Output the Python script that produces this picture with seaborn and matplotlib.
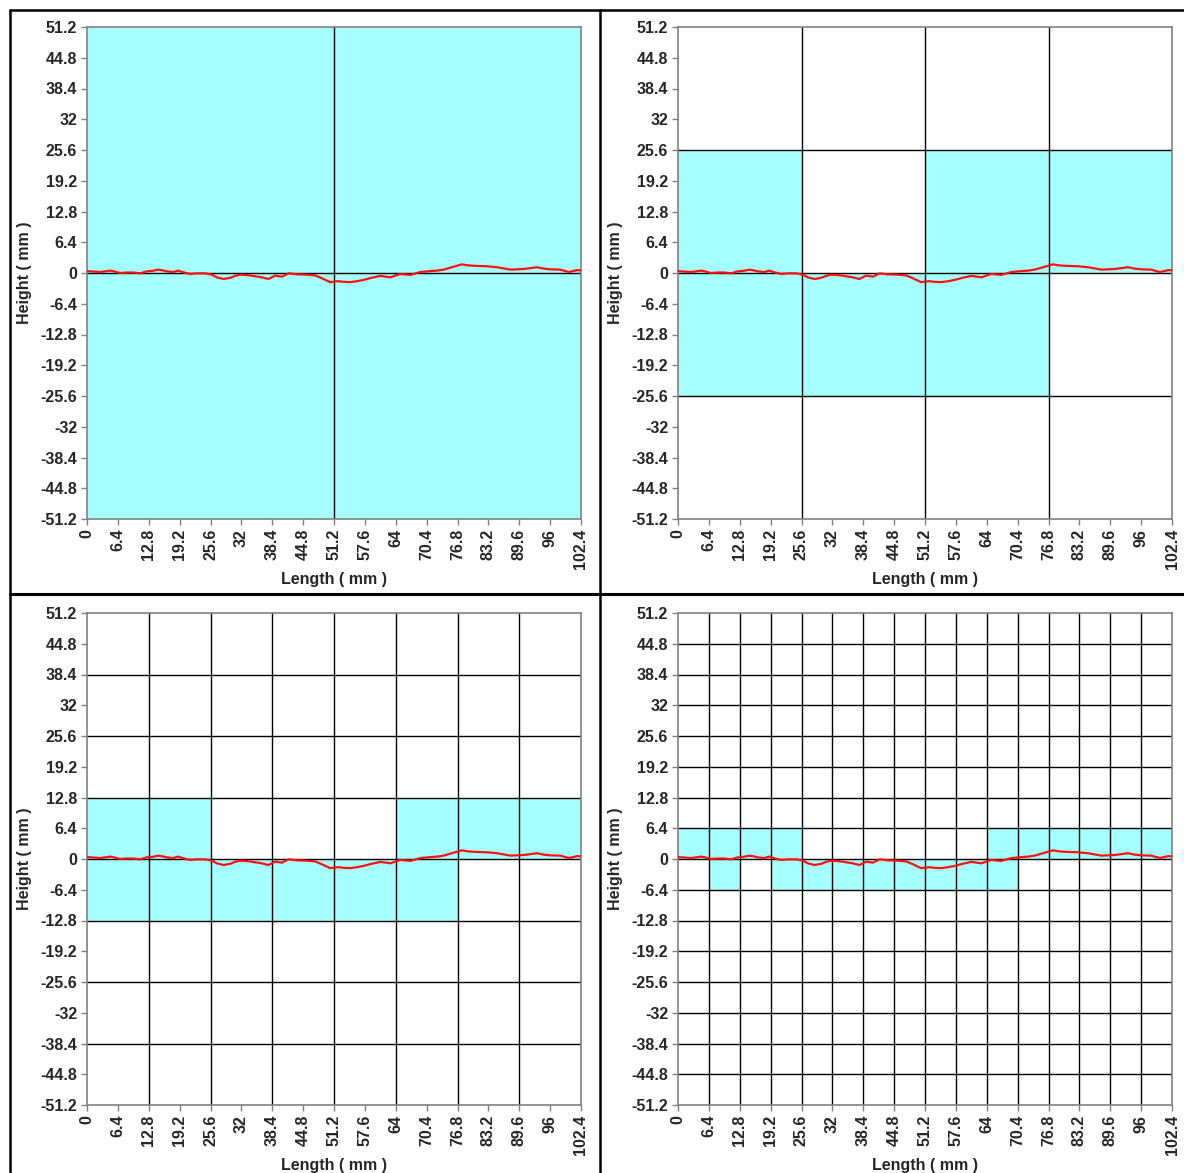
import numpy as np
import pandas as pd
import seaborn as sns
import matplotlib
matplotlib.use("Agg")
import matplotlib.pyplot as plt
from matplotlib.lines import Line2D

# Surface profile along the sample (mm)
length_mm = [0, 1.3, 2.7, 3.8, 4.8, 5.8, 6.8, 8.2, 9.6, 11.0,
             12.4, 13.6, 14.8, 15.7, 16.5, 17.9, 18.9, 20.0, 21.4, 22.8,
             24.5, 25.9, 26.9, 28.3, 29.7, 30.7, 31.7, 32.8, 33.8, 34.9,
             35.9, 37.6, 39.0, 40.4, 41.8, 43.5, 45.6, 47.3, 48.7, 50.4,
             52.1, 53.3, 54.6, 56.0, 57.3, 59.0, 60.8, 62.9, 64.9, 67.0,
             69.1, 71.2, 72.6, 73.9, 76.0, 77.7, 78.9, 80.1, 82.9, 85.0,
             87.8, 90.5, 93.3, 94.7, 96.1, 98.1, 99.9, 101.6, 102.4]
height_mm = [0.4, 0.3, 0.2, 0.35, 0.5, 0.3, 0.0, 0.1, 0.1, -0.07,
             0.35, 0.45, 0.7, 0.55, 0.35, 0.2, 0.5, 0.14, -0.2, -0.07,
             -0.07, -0.35, -0.9, -1.25, -1.0, -0.6, -0.35, -0.4, -0.5, -0.7,
             -0.83, -1.25, -0.55, -0.76, -0.07, -0.28, -0.35, -0.5, -1.1, -1.9,
             -1.7, -1.85, -1.9, -1.7, -1.45, -1.0, -0.6, -0.9, -0.2, -0.4,
             0.2, 0.4, 0.5, 0.7, 1.3, 1.8, 1.6, 1.5, 1.4, 1.2,
             0.7, 0.83, 1.2, 0.9, 0.76, 0.7, 0.2, 0.6, 0.55]

# Box sizes for the four box-counting grids (mm)
box_sizes = [51.2, 25.6, 12.8, 6.4]

x_ticks = [0, 6.4, 12.8, 19.2, 25.6, 32, 38.4, 44.8, 51.2, 57.6, 64,
           70.4, 76.8, 83.2, 89.6, 96, 102.4]
x_tick_labels = ["0", "6.4", "12.8", "19.2", "25.6", "32", "38.4", "44.8",
                 "51.2", "57.6", "64", "70.4", "76.8", "83.2", "89.6", "96",
                 "102.4"]
y_ticks = [51.2, 44.8, 38.4, 32, 25.6, 19.2, 12.8, 6.4, 0, -6.4, -12.8,
           -19.2, -25.6, -32, -38.4, -44.8, -51.2]
y_tick_labels = ["51.2", "44.8", "38.4", "32", "25.6", "19.2", "12.8", "6.4",
                 "0", "-6.4", "-12.8", "-19.2", "-25.6", "-32", "-38.4",
                 "-44.8", "-51.2"]

X_MAX = 102.4
Y_MAX = 51.2
CYAN = "#A6FFFF"
SPINE = "#808080"
TICK_FS = 11.5
LABEL_FS = 11.5

sns.set_style("white")
plt.rcParams["font.family"] = ["Liberation Sans", "DejaVu Sans"]
plt.rcParams["font.weight"] = "bold"

profile = pd.DataFrame({"Length": length_mm, "Height": height_mm})


def occupied_boxes(x, y, s):
    """Return (column, row) indices of grid boxes the profile passes through."""
    x = np.asarray(x, float)
    y = np.asarray(y, float)
    boxes = []
    n_cols = int(round(X_MAX / s))
    for c in range(n_cols):
        x0, x1 = c * s, (c + 1) * s
        inside = y[(x >= x0) & (x <= x1)]
        ends = np.interp([x0, x1], x, y)
        vals = np.concatenate([inside, ends])
        lo = int(np.floor(vals.min() / s))
        hi = int(np.floor(vals.max() / s))
        for r in range(lo, hi + 1):
            boxes.append((c, r))
    return boxes


fig = plt.figure(figsize=(11.84, 11.73), dpi=100)
W, H = 1184.0, 1173.0

# axes frames in pixel coordinates: (left, top)
frames = [(87, 27), (678, 27), (87, 613), (678, 613)]
ax_w, ax_h = 494, 492

for s, (left, top) in zip(box_sizes, frames):
    ax = fig.add_axes([left / W, 1 - (top + ax_h) / H, ax_w / W, ax_h / H])

    # filled boxes
    boxes = occupied_boxes(length_mm, height_mm, s)
    lefts = [c * s for c, r in boxes]
    bottoms = [r * s for c, r in boxes]
    ax.bar(lefts, [s] * len(boxes), width=s, bottom=bottoms, align="edge",
           color=CYAN, linewidth=0, zorder=1)

    # box grid
    for gx in np.arange(s, X_MAX - 1e-6, s):
        ax.axvline(gx, color="black", lw=1.0, zorder=2)
    for gy in np.arange(-Y_MAX + s, Y_MAX - 1e-6, s):
        ax.axhline(gy, color="black", lw=1.0, zorder=2)

    sns.lineplot(data=profile, x="Length", y="Height", ax=ax, color="#FF1010",
                 lw=1.6, estimator=None, sort=False, zorder=3)

    ax.set_xlim(0, X_MAX)
    ax.set_ylim(-Y_MAX, Y_MAX)
    ax.set_xticks(x_ticks)
    ax.set_xticklabels(x_tick_labels, rotation=90, fontsize=TICK_FS,
                       fontweight="bold")
    ax.set_yticks(y_ticks)
    ax.set_yticklabels(y_tick_labels, fontsize=TICK_FS, fontweight="bold")
    ax.tick_params(axis="both", direction="out", length=4, width=1,
                   color=SPINE, pad=3, bottom=True, left=True)
    for sp in ax.spines.values():
        sp.set_visible(True)
        sp.set_color(SPINE)
        sp.set_linewidth(1.2)
    ax.set_xlabel("Length ( mm )", fontsize=LABEL_FS, fontweight="bold")
    ax.set_ylabel("Height ( mm )", fontsize=LABEL_FS, fontweight="bold")
    ax.xaxis.set_label_coords(0.5, -0.108)
    ax.yaxis.set_label_coords(-0.111, 0.5)
    ax.set_facecolor("white")


def fig_line(x0, y0, x1, y1, lw=1.8):
    fig.add_artist(Line2D([x0 / W, x1 / W], [1 - y0 / H, 1 - y1 / H],
                          transform=fig.transFigure, color="black", lw=lw))


# panel borders
fig_line(10, 10, W, 10)
fig_line(10, 10, 10, H)
fig_line(600, 10, 600, H)
fig_line(10, 594, W, 594, lw=2.2)

fig.savefig("out.png", dpi=100, facecolor="white")
